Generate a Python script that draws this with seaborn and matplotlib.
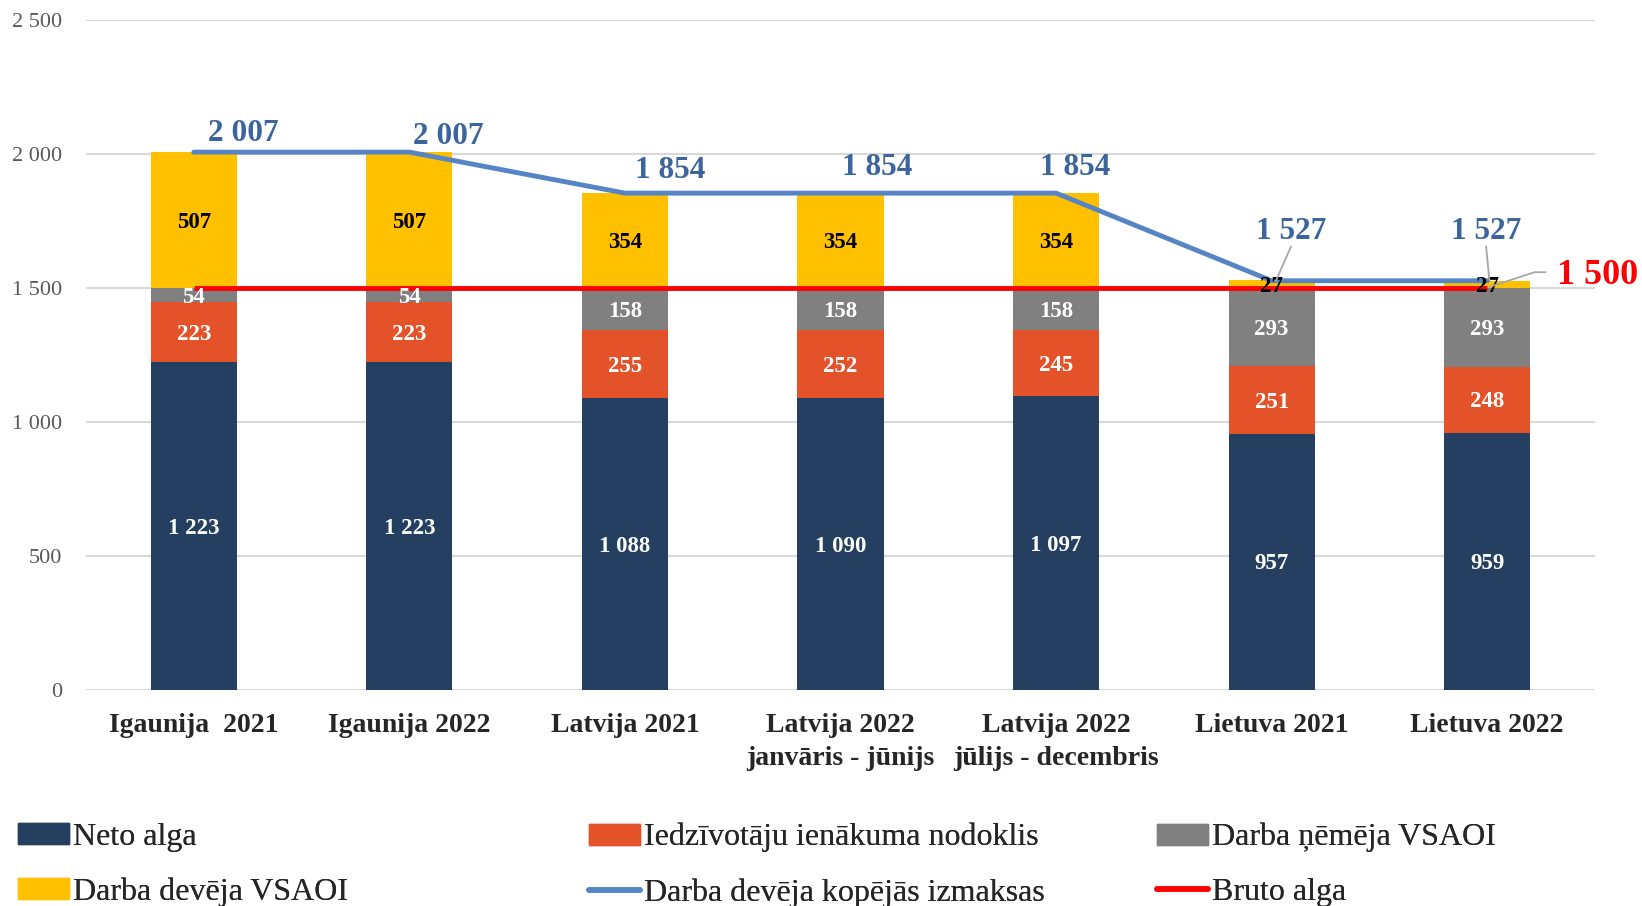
import numpy as np
import pandas as pd
import matplotlib
matplotlib.use("Agg")
import matplotlib.pyplot as plt
from matplotlib.ticker import FuncFormatter
from matplotlib.patches import Patch
from matplotlib.lines import Line2D
import seaborn as sns

categories = ["Igaunija  2021", "Igaunija 2022", "Latvija 2021",
              "Latvija 2022\njanvāris - jūnijs", "Latvija 2022\njūlijs - decembris",
              "Lietuva 2021", "Lietuva 2022"]
neto = [1223, 1223, 1088, 1090, 1097, 957, 959]
iin = [223, 223, 255, 252, 245, 251, 248]
nemeja = [54, 54, 158, 158, 158, 293, 293]
deveja = [507, 507, 354, 354, 354, 27, 27]
total = [2007, 2007, 1854, 1854, 1854, 1527, 1527]
bruto = [1500, 1500, 1500, 1500, 1500, 1500, 1500]

series_names = ["Neto alga", "Iedzīvotāju ienākuma nodoklis", "Darba ņēmēja VSAOI",
                "Darba devēja VSAOI"]
line_names = ["Darba devēja kopējās izmaksas", "Bruto alga"]

c_neto = "#243F60"
c_iin = "#E35228"
c_nem = "#808080"
c_dev = "#FFC000"
c_tot = "#5585C5"
c_bru = "#FF0000"
c_lab = "#3B659C"

sns.set_style("white")
plt.rcParams['font.family'] = ['Liberation Serif', 'DejaVu Serif']

fig = plt.figure(figsize=(16.42, 9.06), dpi=100)
ax = fig.add_axes([86/1642, 1-690/906, (1595-86)/1642, (690-20)/906])

stacks = [neto, iin, nemeja, deveja]
colors = [c_neto, c_iin, c_nem, c_dev]
txtcol = ["white", "white", "white", "black"]
bottom = np.zeros(len(categories))
for vals, col, name in zip(stacks, colors, series_names):
    df = pd.DataFrame({"cat": categories, "val": vals})
    sns.barplot(data=df, x="cat", y="val", color=col, width=0.4, bottom=bottom,
                ax=ax, saturation=1, zorder=2, linewidth=0)
    bottom = bottom + np.array(vals)

xs = np.arange(len(categories))
dfl = pd.DataFrame({"x": xs, "total": total, "bruto": bruto})
sns.lineplot(data=dfl, x="x", y="total", color=c_tot, lw=3.5, ax=ax, zorder=4,
             solid_capstyle="round")
sns.lineplot(data=dfl, x="x", y="bruto", color=c_bru, lw=3.5, ax=ax, zorder=5,
             solid_capstyle="butt")

# bar labels
bottom = np.zeros(len(categories))
for vals, tc in zip(stacks, txtcol):
    for i, v in enumerate(vals):
        ax.text(i, bottom[i] + v/2 - 8, f"{v:,}".replace(",", " "), ha="center", va="center",
                color=tc, fontsize=16.5, fontweight="bold", zorder=6)
    bottom = bottom + np.array(vals)

# total labels
tot_pos = [(0.23, 2076), (1.18, 2064), (2.21, 1937), (3.17, 1949), (4.09, 1949),
           (5.09, 1711), (5.995, 1711)]
for (px, py), v in zip(tot_pos, total):
    ax.text(px, py, f"{v:,}".replace(",", " "), ha="center", va="center",
            color=c_lab, fontsize=22.5, fontweight="bold", zorder=6)
# leader lines
ax.plot([5.09, 5.02], [1655, 1527], color="#A6A6A6", lw=1.3, zorder=6)
ax.plot([5.995, 6.01], [1655, 1527], color="#A6A6A6", lw=1.3, zorder=6)
ax.plot([6.27, 6.22, 6.01], [1559, 1559, 1504], color="#A6A6A6", lw=1.3, zorder=6,
        clip_on=False)
ax.text(6.51, 1545, "1 500", ha="center", va="center", color=c_bru, fontsize=26,
        fontweight="bold", zorder=7, clip_on=False)

ax.set_xlim(-0.5, 6.5)
ax.set_ylim(0, 2500)
ax.set_yticks([0, 500, 1000, 1500, 2000, 2500])
ax.yaxis.set_major_formatter(FuncFormatter(lambda v, p: f"{v:,.0f}".replace(",", " ")))
ax.grid(axis="y", color="#D9D9D9", lw=1.5, zorder=0)
ax.set_axisbelow(True)
for s in ax.spines.values():
    s.set_visible(False)
ax.tick_params(axis="y", length=0, pad=17, labelsize=16, labelcolor="#595959")
ax.tick_params(axis="x", length=0, pad=16.5, labelsize=20)
for t in ax.get_xticklabels():
    t.set_fontweight("bold")
    t.set_linespacing(1.45)
ax.set_xlabel("")
ax.set_ylabel("")
if ax.get_legend():
    ax.get_legend().remove()

# legends (three columns)
cols = [
    [Patch(color=c_neto, label=series_names[0]), Patch(color=c_dev, label=series_names[3])],
    [Patch(color=c_iin, label=series_names[1]), Line2D([], [], color=c_tot, lw=4, label=line_names[0])],
    [Patch(color=c_nem, label=series_names[2]), Line2D([], [], color=c_bru, lw=4, label=line_names[1])],
]
xpos = [18/1642, 589/1642, 1157/1642]
for h, xp in zip(cols, xpos):
    leg = fig.legend(handles=h, loc="upper left", bbox_to_anchor=(xp, 1-823/906),
                     frameon=False, fontsize=23, handlelength=1.6, handleheight=0.65,
                     handletextpad=0.12, labelspacing=0.8, borderaxespad=0, borderpad=0)
    fig.add_artist(leg)

fig.savefig("out.png", dpi=100)
